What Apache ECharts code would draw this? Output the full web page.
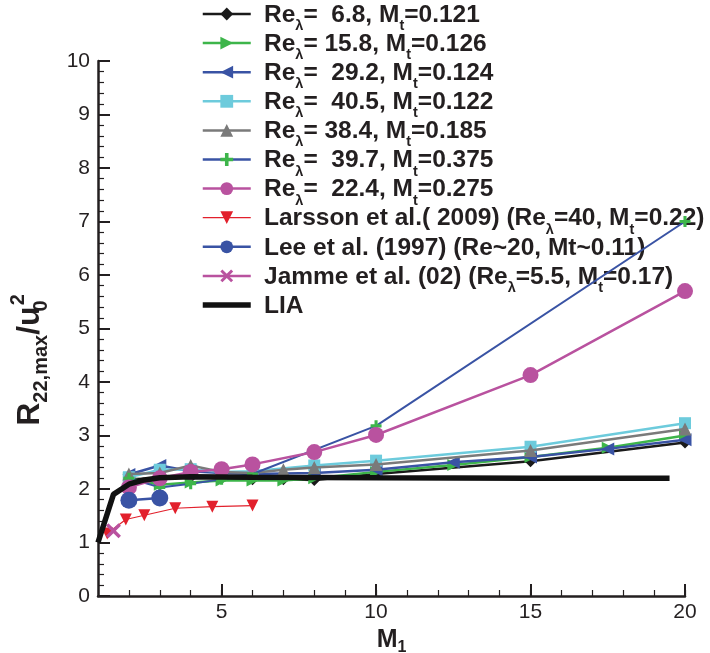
<!DOCTYPE html>
<html>
<head>
<meta charset="utf-8">
<script src="https://cdn.jsdelivr.net/npm/echarts@6/dist/echarts.min.js"></script>
<style>html,body{margin:0;padding:0;background:#fff}#c{width:710px;height:653px}</style>
</head>
<body>
<div id="c"></div>
<script>
// ---- data ----
const seriesNames = [
  'Re_λ=  6.8, M_t=0.121',
  'Re_λ= 15.8, M_t=0.126',
  'Re_λ=  29.2, M_t=0.124',
  'Re_λ=  40.5, M_t=0.122',
  'Re_λ= 38.4, M_t=0.185',
  'Re_λ=  39.7, M_t=0.375',
  'Re_λ=  22.4, M_t=0.275',
  'Larsson et al.( 2009) (Re_λ=40, M_t=0.22)',
  'Lee et al. (1997) (Re~20, Mt~0.11)',
  'Jamme et al. (02) (Re_λ=5.5, M_t=0.17)',
  'LIA'
];
const xRe68 = [2, 3, 4, 5, 6, 7, 8, 10, 15, 20];
const yRe68 = [2.18, 2.2, 2.22, 2.2, 2.18, 2.18, 2.17, 2.28, 2.52, 2.87];
const xRe158 = [2, 3, 4, 5, 6, 7, 8, 10, 12.5, 15, 17.5, 20];
const yRe158 = [2.2, 2.08, 2.12, 2.16, 2.16, 2.16, 2.2, 2.32, 2.45, 2.6, 2.77, 3.0];
const xRe292 = [2, 3, 4, 5, 6, 8, 10, 12.5, 15, 17.5, 20];
const yRe292 = [2.27, 2.44, 2.33, 2.3, 2.28, 2.3, 2.36, 2.5, 2.6, 2.75, 2.92];
const xRe405 = [2, 3, 4, 5, 6, 8, 10, 15, 20];
const yRe405 = [2.22, 2.36, 2.37, 2.32, 2.33, 2.44, 2.53, 2.79, 3.23];
const xRe384 = [2, 3, 4, 5, 6, 7, 8, 10, 15, 20];
const yRe384 = [2.28, 2.3, 2.44, 2.32, 2.3, 2.36, 2.4, 2.46, 2.72, 3.12];
const xRe397 = [2, 3, 4, 5, 6, 10, 20];
const yRe397 = [2.2, 2.03, 2.1, 2.18, 2.28, 3.18, 7.0];
const xRe224 = [2, 3, 4, 5, 6, 8, 10, 15, 20];
const yRe224 = [2.03, 2.2, 2.32, 2.37, 2.46, 2.69, 3.01, 4.13, 5.7];
const xLarsson = [1.3, 1.9, 2.5, 3.5, 4.7, 6.0];
const yLarsson = [1.17, 1.43, 1.51, 1.64, 1.67, 1.69];
const xLee = [2, 3];
const yLee = [1.79, 1.83];
const xJamme = [1.5];
const yJamme = [1.22];
const xLIA = [1, 1.5, 2, 2.5, 3, 4, 6, 10, 15, 19.5];
const yLIA = [1.0, 1.9, 2.09, 2.17, 2.21, 2.23, 2.22, 2.21, 2.2, 2.2];
const xTickValues = [5, 10, 15, 20];

// ---- styling ----
const FONT = "'Liberation Sans', Arial, Helvetica, sans-serif";
const INK = '#231f20';
const C = {
  black: '#1a1a1a', green: '#3db54a', blue: '#3953a4', cyan: '#6dcbdc',
  gray: '#7a7a7a', magenta: '#b9529f', red: '#e2202c'
};
const SYM = {
  right: 'path://M0,0L10,5L0,10Z',
  left: 'path://M10,0L0,5L10,10Z',
  down: 'path://M0,0L10,0L5,10Z',
  plus: 'path://M3.6,0H6.4V3.6H10V6.4H6.4V10H3.6V6.4H0V3.6H3.6Z',
  cross: 'path://M0,1.6L1.6,0L5,3.4L8.4,0L10,1.6L6.6,5L10,8.4L8.4,10L5,6.6L1.6,10L0,8.4L3.4,5Z'
};

function zip(xs, ys) { return xs.map((x, i) => [x, ys[i]]); }
function plain(s) { return s.replace(/_(.)/g, '$1'); }
function richLabel(s) {
  return '{a|' + s.replace(/_(.)/g, '}{s|$1}{a|') + '}';
}

const defs = [
  { x: xRe68, y: yRe68, line: C.black, fill: C.black, symbol: 'diamond', size: 12, w: 2.5 },
  { x: xRe158, y: yRe158, line: C.green, fill: C.green, symbol: SYM.right, size: 12, w: 2.5 },
  { x: xRe292, y: yRe292, line: C.blue, fill: C.blue, symbol: SYM.left, size: 13, w: 2.5 },
  { x: xRe405, y: yRe405, line: C.cyan, fill: C.cyan, symbol: 'rect', size: 12, w: 2.5 },
  { x: xRe384, y: yRe384, line: C.gray, fill: C.gray, symbol: 'triangle', size: 13, w: 2.5 },
  { x: xRe397, y: yRe397, line: C.blue, fill: C.green, symbol: SYM.plus, size: 11, w: 2 },
  { x: xRe224, y: yRe224, line: C.magenta, fill: C.magenta, symbol: 'circle', size: 16, w: 2.5 },
  { x: xLarsson, y: yLarsson, line: C.red, fill: C.red, symbol: SYM.down, size: 12, w: 1.2 },
  { x: xLee, y: yLee, line: C.blue, fill: C.blue, symbol: 'circle', size: 17, w: 2.5 },
  { x: xJamme, y: yJamme, line: C.magenta, fill: C.magenta, symbol: SYM.cross, size: 15, w: 2.5 },
  { x: xLIA, y: yLIA, line: '#111', fill: '#111', symbol: 'none', size: 0, w: 5.5 }
];

const series = defs.map((d, i) => ({
  name: plain(seriesNames[i]),
  type: 'line',
  data: zip(d.x, d.y),
  symbol: d.symbol,
  symbolSize: d.size,
  showSymbol: d.symbol !== 'none',
  lineStyle: { color: d.line, width: d.w },
  itemStyle: { color: d.fill },
  z: i === 10 ? 10 : 2 + i * 0.01,
  animation: false,
  silent: true
}));

const legendData = defs.map((d, i) => ({
  name: plain(seriesNames[i]),
  lineStyle: { width: i === 10 ? 5.5 : (i === 7 ? 1.2 : 2.5), color: d.line },
  itemStyle: i === 10 ? { opacity: 0 } : { color: d.fill }
}));

// legend row geometry
const ROW0 = 14, ROWSTEP = 29.1, LEG_X = 200, TEXT_X = 264, ICON_H = 16;
const ICON_BOX = ICON_H * 0.8;

const richStyles = {
  a: { fontSize: 24.5, fontWeight: 'bold', fontFamily: FONT, fill: INK, lineHeight: 23, verticalAlign: 'top' },
  s: { fontSize: 14.5, fontWeight: 'bold', fontFamily: FONT, fill: INK, lineHeight: 23, verticalAlign: 'top', padding: [16, 0, 0, 0] }
};
const labelGraphics = seriesNames.map((s, i) => ({
  type: 'text',
  x: TEXT_X,
  y: ROW0 + i * ROWSTEP,
  silent: true,
  style: {
    text: richLabel(s),
    fill: INK,
    fontSize: 24.5, fontWeight: 'bold', fontFamily: FONT,
    align: 'left',
    verticalAlign: 'middle',
    rich: richStyles
  }
}));

const yTitle = {
  type: 'text',
  x: 30,
  y: 360,
  rotation: Math.PI / 2,
  silent: true,
  style: {
    text: '{R|R}{sb|22,max}{R|/u}{z|0}{sp|2}',
    fill: INK,
    align: 'center',
    verticalAlign: 'middle',
    rich: {
      R: { fontSize: 32, fontWeight: 'bold', fontFamily: FONT, fill: INK, lineHeight: 32, verticalAlign: 'top' },
      sb: { fontSize: 20, fontWeight: 'bold', fontFamily: FONT, fill: INK, lineHeight: 32, verticalAlign: 'top', padding: [17, 0, 0, 0] },
      z: { fontSize: 20, fontWeight: 'bold', fontFamily: FONT, fill: INK, lineHeight: 32, verticalAlign: 'top', padding: [17, 0, 0, 0], width: 1 },
      sp: { fontSize: 20, fontWeight: 'bold', fontFamily: FONT, fill: INK, lineHeight: 32, verticalAlign: 'top', padding: [-6, 0, 0, 0] }
    }
  }
};

const chart = echarts.init(document.getElementById('c'), null, { renderer: 'canvas' });
chart.setOption({
  animation: false,
  backgroundColor: '#ffffff',
  textStyle: { fontFamily: FONT },
  grid: { left: 98, right: 25, top: 61, bottom: 57, containLabel: false, outerBoundsMode: 'none' },
  legend: {
    orient: 'vertical',
    left: LEG_X,
    top: ROW0 - ICON_BOX / 2,
    padding: 0,
    itemWidth: 48,
    itemHeight: ICON_H,
    itemGap: ROWSTEP - ICON_BOX,
    selectedMode: false,
    data: legendData,
    formatter: () => ' ',
    textStyle: { fontSize: 1, lineHeight: 1, color: 'rgba(0,0,0,0)' }
  },
  graphic: labelGraphics.concat([yTitle]),
  xAxis: [
    {
      type: 'value', min: 1, max: 20, position: 'bottom',
      axisLine: { show: true, onZero: false, lineStyle: { color: INK, width: 2.5 } },
      axisTick: { show: true, inside: true, length: 12, customValues: xTickValues, lineStyle: { color: INK, width: 2 } },
      axisLabel: { show: true, customValues: xTickValues, color: INK, fontSize: 21, fontFamily: FONT, margin: 6 },
      splitLine: { show: false },
      name: '{M|M}{sb|1}',
      nameLocation: 'middle',
      nameGap: 28,
      nameTextStyle: {
        rich: {
          M: { fontSize: 25, fontWeight: 'bold', color: INK, fontFamily: FONT },
          sb: { fontSize: 16, fontWeight: 'bold', color: INK, fontFamily: FONT, padding: [14, 0, 0, 0] }
        }
      }
    },
    {
      type: 'value', min: 1, max: 20, interval: 1, position: 'bottom',
      axisLine: { show: false, onZero: false },
      axisTick: { show: true, inside: true, length: 6, lineStyle: { color: INK, width: 1.2 } },
      axisLabel: { show: false },
      splitLine: { show: false }
    }
  ],
  yAxis: {
    type: 'value', min: 0, max: 10, interval: 1,
    axisLine: { show: true, onZero: false, lineStyle: { color: INK, width: 2.5 } },
    axisTick: { show: true, inside: true, length: 12, lineStyle: { color: INK, width: 2 } },
    minorTick: { show: true, splitNumber: 5, length: 6, lineStyle: { color: INK, width: 1.2 } },
    axisLabel: { color: INK, fontSize: 21, fontFamily: FONT, margin: 8 },
    splitLine: { show: false },
    minorSplitLine: { show: false }
  },
  series: series
});
</script>
</body>
</html>
